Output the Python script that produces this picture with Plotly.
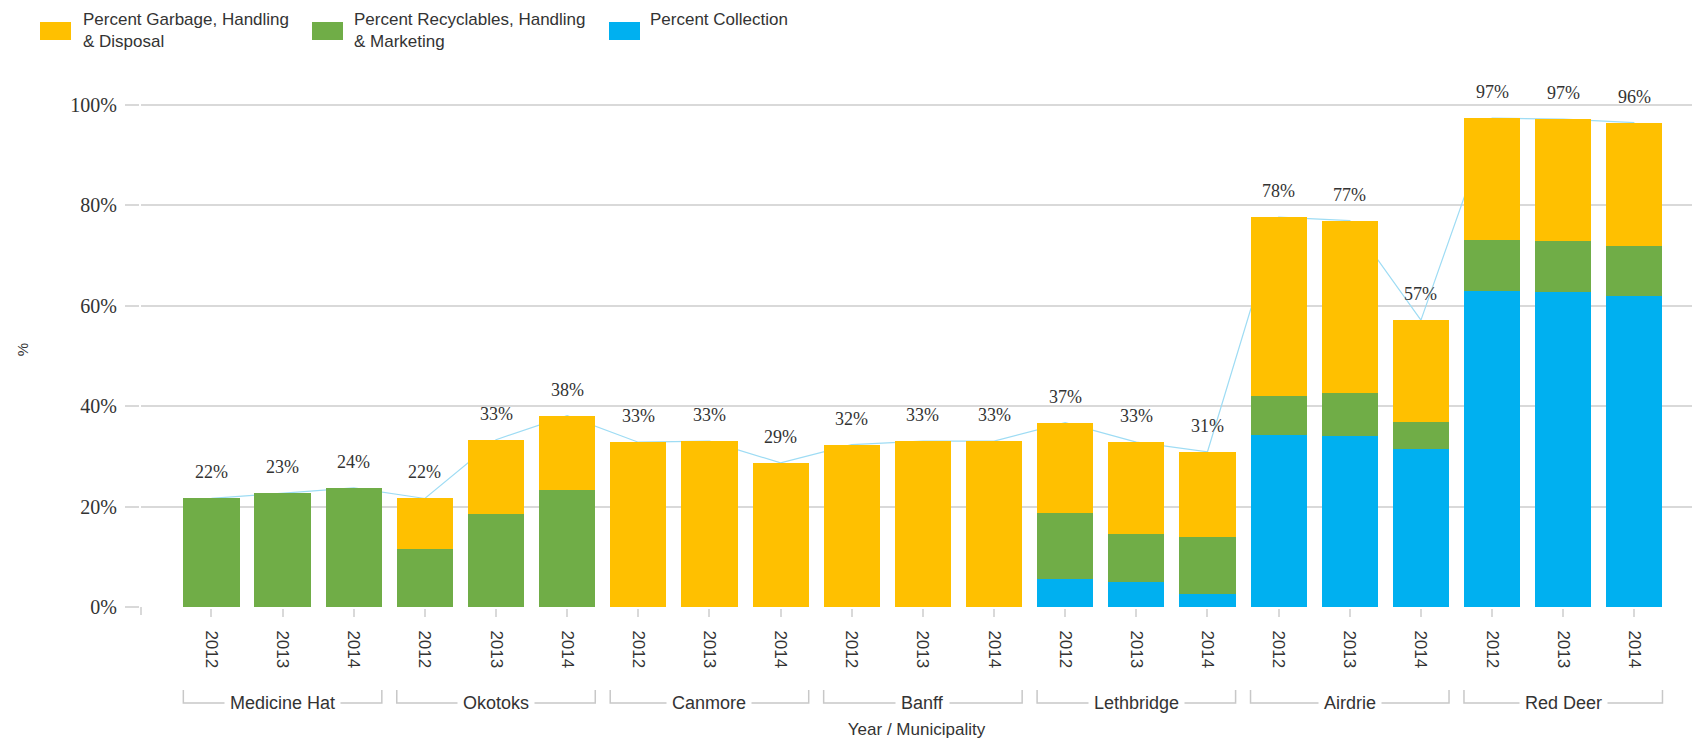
import plotly.graph_objects as go

# Cost breakdown of solid waste services by municipality and year (% shares)
municipalities = ["Medicine Hat", "Okotoks", "Canmore", "Banff", "Lethbridge", "Airdrie", "Red Deer"]
years = ["2012", "2013", "2014"]

pct_collection = [0.0, 0.0, 0.0, 0.0, 0.0, 0.0, 0.0, 0.0, 0.0, 0.0, 0.0, 0.0,
                  5.5, 4.9, 2.6, 34.2, 34.0, 31.5, 62.9, 62.7, 61.8]
pct_recyclables = [21.6, 22.6, 23.7, 11.6, 18.5, 23.2, 0.0, 0.0, 0.0, 0.0, 0.0, 0.0,
                   13.2, 9.6, 11.3, 7.8, 8.5, 5.4, 10.1, 10.1, 10.0]
pct_garbage = [0.0, 0.0, 0.0, 10.0, 14.8, 14.9, 32.8, 33.0, 28.7, 32.3, 33.0, 33.0,
               18.0, 18.3, 17.0, 35.6, 34.4, 20.2, 24.3, 24.3, 24.6]

series_names = ["Percent Garbage, Handling<br>& Disposal",
                "Percent Recyclables, Handling<br>& Marketing",
                "Percent Collection"]

y_ticks = [0, 20, 40, 60, 80, 100]
y_tick_text = ["0%", "20%", "40%", "60%", "80%", "100%"]

# ---- derived values -------------------------------------------------------
positions = list(range(len(municipalities) * len(years)))
tick_years = [y for _ in municipalities for y in years]
totals = [round(a + b + c, 1) for a, b, c in zip(pct_collection, pct_recyclables, pct_garbage)]
total_labels = [f"{round(t):d}%" for t in totals]

C_GARBAGE = "#FFC000"
C_RECYCLE = "#70AD47"
C_COLLECT = "#00B0F0"
C_LINE = "#9edcf4"
C_GRID = "#d9d9d9"
C_TEXT = "#333333"
SANS = "Liberation Sans, Arial, sans-serif"
SERIF = "Liberation Serif, Times New Roman, serif"

W, H = 1692, 741
ML, MR, MT, MB = 141, 0, 92, 134
PW, PH = W - ML - MR, H - MT - MB
BARGAP = 0.21


def px_x(px):
    return (px - ML) / PW


def px_y(py):
    return (H - MB - py) / PH


fig = go.Figure()

# thin total line, kept behind the bars
fig.add_trace(go.Scatter(x=positions, y=totals, mode="lines",
                         line=dict(color=C_LINE, width=1.2),
                         zorder=-1, hoverinfo="skip", showlegend=False))

for vals, name, col in [(pct_collection, series_names[2], C_COLLECT),
                        (pct_recyclables, series_names[1], C_RECYCLE),
                        (pct_garbage, series_names[0], C_GARBAGE)]:
    fig.add_trace(go.Bar(x=positions, y=vals, name=name.replace("<br>", " "),
                         marker=dict(color=col, line=dict(width=0))))

annotations = []
shapes = []

# total labels above each stack
for x, t, lab in zip(positions, totals, total_labels):
    annotations.append(dict(x=x, y=t, xref="x", yref="y", text=lab, showarrow=False,
                            yshift=26, yanchor="middle",
                            font=dict(family=SERIF, size=18, color=C_TEXT)))

# municipality brackets under the year labels
half = (1 - BARGAP) / 2
y_top, y_bot = px_y(690), px_y(703)
for g, name in enumerate(municipalities):
    first = g * len(years)
    last = first + len(years) - 1
    x0, x1 = first - half, last + half
    shapes.append(dict(type="path", xref="x", yref="paper",
                       path=f"M{x0},{y_top} L{x0},{y_bot} L{x1},{y_bot} L{x1},{y_top}",
                       line=dict(color="#c8c8c8", width=1.5), layer="above"))
    annotations.append(dict(x=(first + last) / 2, y=y_bot, xref="x", yref="paper",
                            text=name, showarrow=False, yanchor="middle",
                            bgcolor="white", borderpad=5,
                            font=dict(family=SANS, size=18, color=C_TEXT)))

# small tick under the axis origin
shapes.append(dict(type="line", xref="paper", yref="paper", x0=0, x1=0,
                   ysizemode="pixel", yanchor=0, y0=0, y1=-8,
                   line=dict(color=C_GRID, width=2)))

# legend: swatches + labels across the top
legend_items = [(series_names[0], C_GARBAGE, 40, 81),
                (series_names[1], C_RECYCLE, 312, 352),
                (series_names[2], C_COLLECT, 609, 648)]
for text, col, sx, tx in legend_items:
    shapes.append(dict(type="rect", xref="paper", yref="paper",
                       x0=px_x(sx), x1=px_x(sx + 31), y0=px_y(40), y1=px_y(22),
                       fillcolor=col, line=dict(width=0)))
    two_line = "<br>" in text
    annotations.append(dict(x=px_x(tx), y=px_y(30.5 if two_line else 19), xref="paper",
                            yref="paper", text=text, showarrow=False, xanchor="left",
                            yanchor="middle", align="left",
                            font=dict(family=SANS, size=17, color=C_TEXT)))

fig.update_layout(
    width=W, height=H,
    margin=dict(l=ML, r=MR, t=MT, b=MB, autoexpand=False),
    barmode="stack", bargap=BARGAP,
    plot_bgcolor="white", paper_bgcolor="white",
    showlegend=False,
    font=dict(family=SANS, size=17, color=C_TEXT),
    annotations=annotations, shapes=shapes,
)

fig.update_xaxes(
    range=[-0.99, 20.81], tickmode="array", tickvals=positions, ticktext=tick_years,
    tickangle=90, ticks="outside", ticklen=8, tickwidth=1.5, tickcolor=C_GRID,
    showline=True, linecolor=C_GRID, linewidth=2, showgrid=False, zeroline=False,
    tickfont=dict(family=SANS, size=17, color=C_TEXT), ticklabelstandoff=10,
    title=dict(text="Year / Municipality", standoff=56,
               font=dict(family=SANS, size=17, color=C_TEXT)),
)

fig.update_yaxes(
    range=[0, 102.5], tickmode="array", tickvals=y_ticks, ticktext=y_tick_text,
    ticks="outside", ticklen=14, tickwidth=2, tickcolor=C_GRID,
    showgrid=True, gridcolor=C_GRID, gridwidth=2,
    showline=True, linecolor=C_GRID, linewidth=2, zeroline=False,
    tickfont=dict(family=SERIF, size=20, color=C_TEXT), ticklabelstandoff=4,
    title=dict(text="%", standoff=38, font=dict(family=SANS, size=15, color=C_TEXT)),
)

fig.write_html("out.html")
